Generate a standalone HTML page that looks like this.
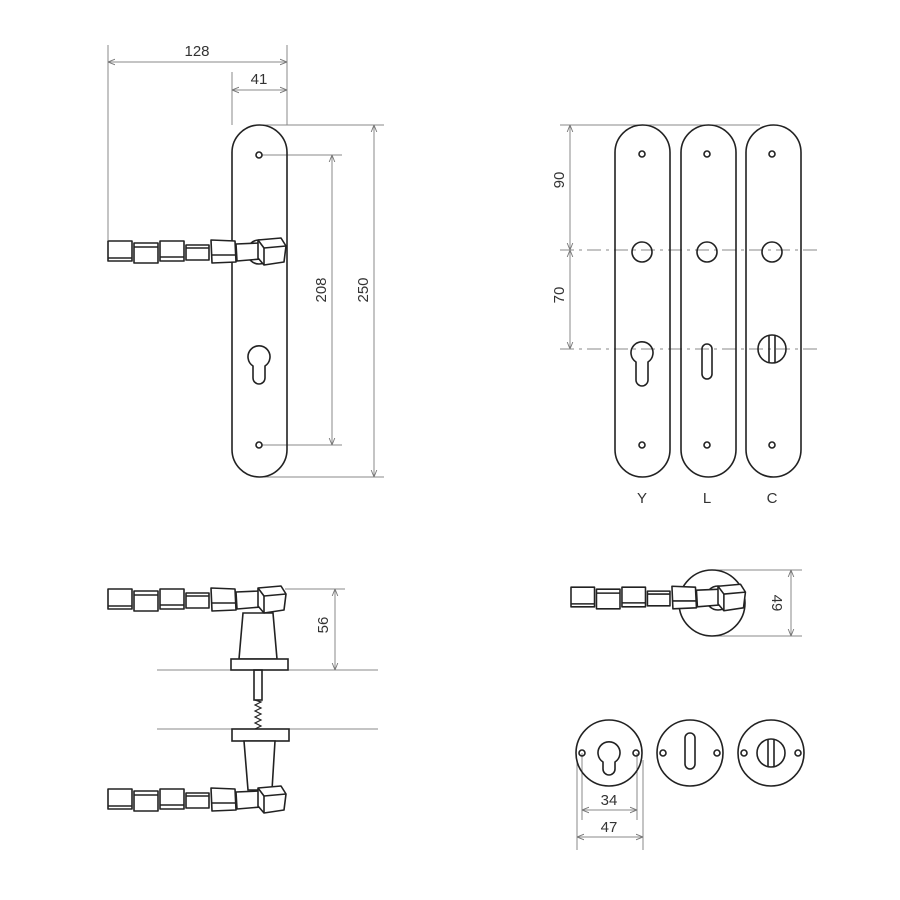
<!DOCTYPE html>
<html><head><style>html,body{margin:0;padding:0;background:#fff}svg{display:block}text{font-family:"Liberation Sans",sans-serif;fill:#333;font-size:15px}</style></head>
<body>
<svg width="900" height="900" viewBox="0 0 900 900" xmlns="http://www.w3.org/2000/svg">
<defs>
<marker id="a" viewBox="0 0 10 10" refX="10" refY="5" markerWidth="7" markerHeight="7" orient="auto-start-reverse"><path d="M0,1 L10,5 L0,9" fill="none" stroke="#777" stroke-width="1.3"/></marker>
<g id="h" fill="#fff" stroke="#222" stroke-width="1.6" stroke-linejoin="round">
<rect x="0" y="-11" width="24" height="20"/><line x1="0" y1="6" x2="24" y2="6"/>
<rect x="26" y="-9" width="24" height="20"/><line x1="26" y1="-5" x2="50" y2="-5"/>
<rect x="52" y="-11" width="24" height="20"/><line x1="52" y1="5" x2="76" y2="5"/>
<rect x="78" y="-7" width="23" height="15"/><line x1="78" y1="-4" x2="101" y2="-4"/>
<polygon points="103,-12 127,-11 128,10 104,11"/><line x1="103" y1="3" x2="128" y2="3"/>
<polygon points="128,-8 152,-9 153,7 129,9"/>
<polygon points="150,-12 173,-14 178,-6 176,10 156,13 150,6"/><polyline points="150,-12 156,-4 178,-6" fill="none"/><line x1="156" y1="-4" x2="156" y2="13"/>
</g>
</defs>
<g fill="none" stroke="#888" stroke-width="1">
<line x1="108" y1="45" x2="108" y2="240"/><line x1="287" y1="45" x2="287" y2="125"/><line x1="232" y1="72" x2="232" y2="125"/>
<line x1="108" y1="62" x2="287" y2="62" marker-start="url(#a)" marker-end="url(#a)"/>
<line x1="232" y1="90" x2="287" y2="90" marker-start="url(#a)" marker-end="url(#a)"/>
<line x1="262" y1="155" x2="342" y2="155"/><line x1="262" y1="445" x2="342" y2="445"/>
<line x1="332" y1="155" x2="332" y2="445" marker-start="url(#a)" marker-end="url(#a)"/>
<line x1="260" y1="125" x2="384" y2="125"/><line x1="260" y1="477" x2="384" y2="477"/>
<line x1="374" y1="125" x2="374" y2="477" marker-start="url(#a)" marker-end="url(#a)"/>
<line x1="560" y1="125" x2="760" y2="125"/>
<line x1="570" y1="125" x2="570" y2="250" marker-start="url(#a)" marker-end="url(#a)"/>
<line x1="570" y1="250" x2="570" y2="349" marker-start="url(#a)" marker-end="url(#a)"/>
<line x1="560" y1="250" x2="822" y2="250" stroke-dasharray="14,5,3,5"/>
<line x1="560" y1="349" x2="822" y2="349" stroke-dasharray="14,5,3,5"/>
<line x1="157" y1="670" x2="378" y2="670"/><line x1="157" y1="729" x2="378" y2="729"/>
<line x1="285" y1="589" x2="345" y2="589"/>
<line x1="335" y1="589" x2="335" y2="670" marker-start="url(#a)" marker-end="url(#a)"/>
<line x1="712" y1="570" x2="802" y2="570"/><line x1="712" y1="636" x2="802" y2="636"/>
<line x1="791" y1="570" x2="791" y2="636" marker-start="url(#a)" marker-end="url(#a)"/>
<line x1="582" y1="753" x2="582" y2="820"/><line x1="637" y1="753" x2="637" y2="820"/>
<line x1="577" y1="760" x2="577" y2="850"/><line x1="643" y1="760" x2="643" y2="850"/>
<line x1="582" y1="810" x2="637" y2="810" marker-start="url(#a)" marker-end="url(#a)"/>
<line x1="577" y1="837" x2="643" y2="837" marker-start="url(#a)" marker-end="url(#a)"/>
</g>
<text x="197" y="56" text-anchor="middle">128</text>
<text x="259" y="84" text-anchor="middle">41</text>
<text transform="translate(326,290) rotate(-90)" text-anchor="middle">208</text>
<text transform="translate(368,290) rotate(-90)" text-anchor="middle">250</text>
<text transform="translate(564,180) rotate(-90)" text-anchor="middle">90</text>
<text transform="translate(564,295) rotate(-90)" text-anchor="middle">70</text>
<text transform="translate(328,625) rotate(-90)" text-anchor="middle">56</text>
<text transform="translate(772,603) rotate(90)" text-anchor="middle">49</text>
<text x="609" y="805" text-anchor="middle">34</text>
<text x="609" y="832" text-anchor="middle">47</text>
<text x="642" y="503" text-anchor="middle">Y</text>
<text x="707" y="503" text-anchor="middle">L</text>
<text x="772" y="503" text-anchor="middle">C</text>
<g fill="none" stroke="#222" stroke-width="1.6">
<rect x="232" y="125" width="55" height="352" rx="27.5"/>
<circle cx="259" cy="155" r="3"/><circle cx="259" cy="445" r="3"/>
<path d="M253,366 A11,11 0 1 1 265,366 L265,378 A6,6 0 0 1 253,378 Z"/>
<circle cx="259" cy="252" r="12" fill="#fff"/>
<rect x="615" y="125" width="55" height="352" rx="27.5"/>
<rect x="681" y="125" width="55" height="352" rx="27.5"/>
<rect x="746" y="125" width="55" height="352" rx="27.5"/>
<circle cx="642" cy="154" r="3"/><circle cx="707" cy="154" r="3"/><circle cx="772" cy="154" r="3"/>
<circle cx="642" cy="445" r="3"/><circle cx="707" cy="445" r="3"/><circle cx="772" cy="445" r="3"/>
<circle cx="642" cy="252" r="10"/><circle cx="707" cy="252" r="10"/><circle cx="772" cy="252" r="10"/>
<path d="M636,362 A11,11 0 1 1 648,362 L648,380 A6,6 0 0 1 636,380 Z"/>
<rect x="702" y="344" width="10" height="35" rx="5"/>
<circle cx="772" cy="349" r="14"/><line x1="769" y1="335" x2="769" y2="363"/><line x1="775" y1="335" x2="775" y2="363"/>
<polygon points="243,613 273,613 277,659 239,659" fill="#fff"/>
<rect x="231" y="659" width="57" height="11" fill="#fff"/>
<rect x="254" y="670" width="8" height="30"/>
<path d="M255,700 L261,702 L255,705 L261,708 L255,711 L261,714 L255,717 L261,720 L255,723 L261,726 L255,729" stroke-width="1.2"/>
<rect x="232" y="729" width="57" height="12" fill="#fff"/>
<polygon points="244,741 275,741 272,790 248,790" fill="#fff"/>
<circle cx="712" cy="603" r="33"/>
<circle cx="718" cy="598" r="12"/>
<circle cx="609" cy="753" r="33"/><circle cx="690" cy="753" r="33"/><circle cx="771" cy="753" r="33"/>
<circle cx="582" cy="753" r="3"/><circle cx="636" cy="753" r="3"/>
<circle cx="663" cy="753" r="3"/><circle cx="717" cy="753" r="3"/>
<circle cx="744" cy="753" r="3"/><circle cx="798" cy="753" r="3"/>
<path d="M603,762 A11,11 0 1 1 615,762 L615,769 A6,6 0 0 1 603,769 Z"/>
<rect x="685" y="733" width="10" height="36" rx="5"/>
<circle cx="771" cy="753" r="14"/><line x1="768" y1="739" x2="768" y2="767"/><line x1="774" y1="739" x2="774" y2="767"/>
</g>
<use href="#h" x="108" y="252"/>
<use href="#h" x="108" y="600"/>
<use href="#h" x="108" y="800"/>
<use href="#h" transform="translate(571,598) scale(0.98)"/>
</svg>
</body></html>
